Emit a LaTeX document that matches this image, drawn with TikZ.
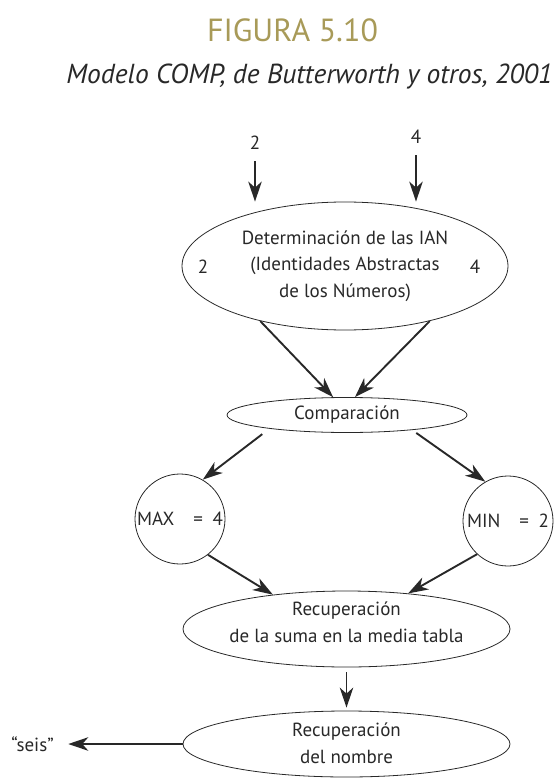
\documentclass[tikz,border=0pt]{standalone}
\usepackage{fontspec}
\setmainfont{PT Sans}
\usetikzlibrary{shapes.geometric,arrows.meta}
\definecolor{oliva}{RGB}{168,154,88}
\definecolor{tinta}{RGB}{40,40,40}

\begin{document}
\begin{tikzpicture}
  [x=1pt, y=-1pt, -{Stealth[length=20pt,width=13.5pt,inset=6pt]},
   every edge/.append style={line width=1.9pt, tinta},
   texto/.style={text=tinta, font=\fontsize{19}{26.5}\selectfont, align=center},
   ovalo/.style={texto, draw=tinta, ellipse, line width=0.8pt, inner sep=0pt},
   bola/.style={texto, draw=tinta, circle, line width=0.8pt, inner sep=0pt, minimum size=90pt}]
  \useasboundingbox (0,0) rectangle (558,778);
  \node [name=titulo, text=oliva, font=\fontsize{32}{38}\selectfont] at (292.5,30) {FIGURA 5.10};
  \node [name=subtitulo, anchor=base, text=tinta, font=\fontsize{27.5}{32}\selectfont\itshape] at (309.5,84) {Modelo COMP, de Butterworth y otros, 2001};

  \node [name=dos, texto] at (255,143) {2};
  \node [name=cuatro, texto] at (416,137) {4};
  \node [name=ian, ovalo, minimum width=326pt, minimum height=128pt] at (345,266)
    {Determinación de las IAN\\(Identidades Abstractas\\de los Números)};
  \node [name=ian2, texto] at (203,267) {2};
  \node [name=ian4, texto] at (475,267) {4};
  \node [name=comp, ovalo, minimum width=240pt, minimum height=35pt] at (347,415) {Comparación};
  \node [name=max, bola] at (180,519) {MAX\quad=\enspace4};
  \node [name=min, bola] at (508,521) {MIN\quad=\enspace2};
  \node [name=suma, ovalo, minimum width=327pt, minimum height=76pt, inner xsep=-32pt, inner ysep=-2pt, text depth=14pt] at (346.5,629)
    {Recuperación\\de la suma en la media tabla};
  \node [name=nombre, ovalo, minimum width=327pt, minimum height=66pt, inner ysep=-2pt, text depth=2pt] at (346.5,744)
    {Recuperación\\del nombre};
  \node [name=seis, texto] at (32.5,744) {“seis”};

  \path (dos.south) edge [shorten <=8pt] (dos |- ian.north)
        (cuatro.south) edge [shorten <=8pt] (cuatro |- ian.north)
        (ian.213) edge (comp.128)
        (ian.327) edge (comp.66)
        (comp.190) edge [shorten <=9pt] (max.60)
        (comp.347) edge [shorten <=5pt] (min.120)
        (max.308) edge (suma.155)
        (min.227) edge (suma.30)
        (suma.south) edge [shorten <=5pt, shorten >=3pt] (nombre.north)
        (nombre.west) edge [shorten >=11pt] (seis.east);
\end{tikzpicture}
\end{document}
